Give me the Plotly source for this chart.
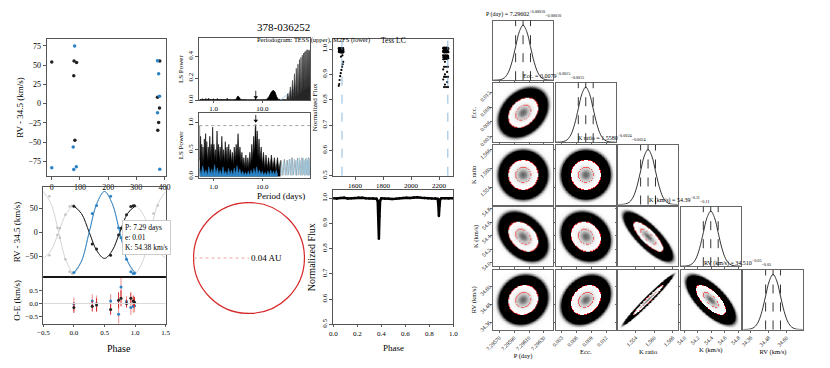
import numpy as np
import plotly.graph_objects as go

# ---------------- data ----------------
# RV vs time (primary = black, secondary = blue), km/s minus 34.5
t_pri = [0, 79, 88, 78, 82, 376, 375, 383, 382, 379]
rv_pri = [54.0, 55.3, 53.6, 36.3, -47.6, -34.6, 8.2, 55.3, -5.6, -24.6]
t_sec = [0, 78, 87, 76, 81, 375, 375, 383, 382, 379]
rv_sec = [-83.4, -85.6, -82.1, -56.2, 74.8, 55.8, -11.7, -85.2, 9.5, 38.9]
obs_phase = [0.00, 0.97, 0.93, 0.86, 0.60, 0.37, 0.77, 0.99, 0.73, 0.30]

# O-E residuals
oe_pri = [-0.15, 0.10, 0.20, 0.00, -0.22, -0.05, 0.20, 0.05, 0.12, -0.10]
oe_pri_err = [0.20, 0.20, 0.22, 0.15, 0.20, 0.25, 0.30, 0.20, 0.30, 0.20]
oe_sec = [-0.02, -0.10, -0.15, 0.08, 0.10, 0.00, 0.62, -0.08, -0.40, 0.10]
oe_sec_err = [0.25, 0.25, 0.28, 0.20, 0.25, 0.30, 0.35, 0.25, 0.35, 0.25]

# orbit model read at phase steps
model_phase = [-0.5, -0.375, -0.25, -0.125, 0.0, 0.125, 0.25, 0.375, 0.5,
               0.625, 0.75, 0.875, 1.0, 1.125, 1.25, 1.375, 1.5]
model_pri = [-54.4, -38.5, 0.0, 38.5, 54.4, 38.5, 0.0, -38.5, -54.4,
             -38.5, 0.0, 38.5, 54.4, 38.5, 0.0, -38.5, -54.4]
model_sec = [84.7, 59.9, 0.0, -59.9, -84.7, -59.9, 0.0, 59.9, 84.7,
             59.9, 0.0, -59.9, -84.7, -59.9, 0.0, 59.9, 84.7]
fit_text = ["P: 7.29 days", "e: 0.01", "K: 54.38 km/s"]
period_orbit = 7.29602
orbit_au = 0.04

# periodogram, TESS (upper)
tess_per = [0.52, 0.58, 0.60, 0.62, 0.68, 0.70, 0.72, 0.78, 0.80, 0.82,
            0.95, 1.00, 1.05, 1.18, 1.20, 1.22, 1.50, 1.85, 1.90, 1.95,
            2.50, 2.90, 3.05, 3.20, 3.40, 3.60, 5.00, 6.80, 7.20, 7.60,
            9.00, 12.0, 13.5, 15.0, 16.5, 18.0, 19.5, 21.0, 25.0, 30.0]
tess_pow = [0.005, 0.004, 0.012, 0.004, 0.005, 0.014, 0.004, 0.005, 0.016, 0.004,
            0.004, 0.010, 0.004, 0.004, 0.014, 0.004, 0.004, 0.004, 0.016, 0.004,
            0.003, 0.006, 0.030, 0.036, 0.020, 0.004, 0.003, 0.003, 0.012, 0.003,
            0.003, 0.004, 0.030, 0.070, 0.090, 0.075, 0.030, 0.006, 0.003, 0.004]
tess_forest_per = [31, 33, 35, 37, 39, 41, 43, 45, 47, 49, 51, 53, 55, 57, 59, 61, 63,
                   65, 67, 69, 71, 73, 75, 77, 79, 81, 83, 85, 87, 89, 91, 93, 94]
tess_forest_pow = [0.0, 0.06, 0.0, 0.12, 0.01, 0.18, 0.02, 0.24, 0.03, 0.29, 0.04,
                   0.33, 0.05, 0.37, 0.06, 0.39, 0.07, 0.41, 0.08, 0.43, 0.09, 0.44,
                   0.10, 0.45, 0.10, 0.46, 0.11, 0.46, 0.12, 0.45, 0.12, 0.46, 0.30]
tess_win_per = [23, 94]
tess_win_pow = [0.0, 0.21]

# periodogram, M2FS (lower)
m2_per = [0.52, 0.53, 0.545, 0.56, 0.575, 0.59, 0.61, 0.63, 0.65, 0.67,
          0.69, 0.71, 0.73, 0.75, 0.78, 0.81, 0.84, 0.87, 0.90, 0.93,
          0.96, 0.99, 1.02, 1.06, 1.10, 1.14, 1.18, 1.22, 1.27, 1.32,
          1.37, 1.42, 1.48, 1.54, 1.60, 1.67, 1.74, 1.81, 1.89, 1.97,
          2.05, 2.14, 2.23, 2.33, 2.43, 2.54, 2.65, 2.77, 2.90, 3.03,
          3.17, 3.32, 3.47, 3.63, 3.80, 3.98, 4.17, 4.37, 4.58, 4.80,
          5.03, 5.27, 5.52, 5.78, 6.05, 6.33, 6.62, 6.92, 7.10, 7.29,
          7.50, 7.80, 8.10, 8.50, 8.90, 9.40, 9.90, 10.5, 11.1, 11.8,
          12.5, 13.3, 14.2, 15.2, 16.3, 17.5, 18.8, 20.2, 21.7, 23.3]
m2_pow = [0.95, 0.30, 0.75, 0.20, 0.60, 0.25, 0.55, 0.20, 0.70, 0.30,
          0.80, 0.35, 0.65, 0.25, 0.55, 0.30, 0.75, 0.35, 0.60, 0.30,
          0.92, 0.40, 0.60, 0.30, 0.50, 0.25, 0.85, 0.35, 0.60, 0.30,
          0.55, 0.25, 0.75, 0.30, 0.50, 0.25, 0.65, 0.30, 0.55, 0.25,
          0.60, 0.30, 0.50, 0.25, 0.45, 0.20, 0.55, 0.30, 0.60, 0.35,
          0.80, 0.35, 0.55, 0.25, 0.45, 0.20, 0.35, 0.15, 0.40, 0.15,
          0.35, 0.15, 0.45, 0.20, 0.60, 0.30, 0.75, 0.40, 0.90, 0.97,
          0.50, 0.85, 0.35, 0.70, 0.30, 0.55, 0.20, 0.45, 0.15, 0.40,
          0.15, 0.35, 0.15, 0.40, 0.15, 0.35, 0.10, 0.35, 0.10, 0.30]
m2_blue_per = [0.52, 0.56, 0.6, 0.65, 0.7, 0.75, 0.8, 0.86, 0.92, 0.98,
               1.05, 1.12, 1.2, 1.28, 1.37, 1.46, 1.56, 1.67, 1.78, 1.9,
               2.03, 2.17, 2.32, 2.48, 2.65, 2.83, 3.02, 3.23, 3.45, 3.68,
               3.93, 4.2, 4.49, 4.8, 5.13, 5.48, 5.85, 6.25, 6.68, 7.13,
               7.62, 8.14, 8.7, 9.3, 9.93, 10.6, 11.3, 12.1, 12.9, 13.8,
               14.7, 15.7, 16.8, 17.9, 19.1, 20.4]
m2_blue_pow = [0.15, 0.03, 0.20, 0.05, 0.12, 0.02, 0.18, 0.04, 0.14, 0.03,
               0.22, 0.05, 0.16, 0.03, 0.12, 0.02, 0.18, 0.04, 0.10, 0.02,
               0.15, 0.03, 0.12, 0.02, 0.16, 0.04, 0.20, 0.05, 0.14, 0.03,
               0.10, 0.02, 0.08, 0.02, 0.10, 0.02, 0.12, 0.03, 0.15, 0.04,
               0.18, 0.05, 0.12, 0.03, 0.10, 0.02, 0.08, 0.02, 0.10, 0.02,
               0.12, 0.03, 0.10, 0.02, 0.12, 0.03]
m2_gray_per = [20, 22, 24, 26, 28, 30, 32, 34, 36, 38, 40, 43, 46, 49, 52, 55, 58,
               61, 64, 67, 70, 73, 76, 79, 82, 85, 88, 91, 94]
m2_gray_pow = [0.30, 0.02, 0.30, 0.02, 0.32, 0.02, 0.30, 0.03, 0.32, 0.02, 0.35,
               0.03, 0.30, 0.02, 0.34, 0.03, 0.30, 0.02, 0.35, 0.03, 0.30, 0.02,
               0.33, 0.03, 0.30, 0.02, 0.35, 0.03, 0.32]
m2_lblue_per = [21, 23, 25, 27, 29, 31, 33, 35, 37, 39, 41.5, 44.5, 47.5, 50.5,
                53.5, 56.5, 59.5, 62.5, 65.5, 68.5, 71.5, 74.5, 77.5, 80.5, 83.5,
                86.5, 89.5, 92.5]
m2_lblue_pow = [0.02, 0.25, 0.02, 0.28, 0.03, 0.30, 0.02, 0.32, 0.03, 0.30, 0.02,
                0.33, 0.03, 0.30, 0.02, 0.35, 0.03, 0.30, 0.02, 0.34, 0.03, 0.30,
                0.02, 0.35, 0.03, 0.32, 0.02, 0.30]
fap_level = 0.95

# TESS light curve
lc1_t = [1483, 1485, 1487, 1489, 1491, 1493, 1495, 1497, 1499, 1501, 1503, 1505,
         1507, 1509, 1511, 1513, 1515, 1517,
         1484, 1486, 1488, 1490, 1492, 1494, 1496, 1498, 1500, 1502, 1504, 1506,
         1508, 1510, 1512, 1514, 1516, 1518,
         1484, 1487, 1490, 1494, 1498, 1503, 1508, 1512, 1516, 1500, 1510]
lc1_f = [1.003, 0.998, 1.004, 0.999, 1.002, 0.997, 1.003, 1.000, 0.998, 1.004, 0.999, 1.002,
         0.997, 1.003, 1.000, 0.998, 1.004, 0.999,
         0.990, 0.993, 0.988, 0.992, 0.989, 0.994, 0.990, 0.987, 0.993, 0.989, 0.991, 0.986,
         0.992, 0.988, 0.990, 0.993, 0.987, 0.991,
         0.855, 0.862, 0.878, 0.893, 0.905, 0.918, 0.930, 0.940, 0.950, 0.970, 0.975]
lc2_band_t = [2229, 2231, 2233, 2235, 2237, 2239, 2241, 2243, 2245, 2247,
              2249, 2251, 2253, 2255, 2257, 2259, 2261, 2263, 2265, 2267]
lc2_band_f1 = [1.004, 1.001, 1.005, 1.002, 1.006, 1.000, 1.004, 1.002, 1.005, 1.001,
               1.004, 1.002, 1.006, 1.001, 1.004, 1.000, 1.005, 1.002, 1.004, 1.001]
lc2_band_f2 = [0.992, 0.988, 0.993, 0.989, 0.991, 0.987, 0.992, 0.990, 0.988, 0.993,
               0.989, 0.991, 0.987, 0.992, 0.990, 0.988, 0.993, 0.989, 0.991, 0.988]
lc2_band_f3 = [0.975, 0.968, 0.972, 0.960, 0.974, 0.966, 0.971, 0.962, 0.975, 0.967,
               0.973, 0.961, 0.974, 0.968, 0.970, 0.963, 0.975, 0.966, 0.972, 0.964]
lc2_dip_t = [2230, 2230, 2230, 2236, 2236, 2236, 2236, 2242, 2242, 2242, 2250,
             2250, 2250, 2250, 2258, 2258, 2258, 2264, 2264, 2264, 2264]
lc2_dip_f = [0.96, 0.92, 0.88, 0.97, 0.93, 0.89, 0.85, 0.95, 0.90, 0.86, 0.97,
             0.93, 0.89, 0.85, 0.96, 0.91, 0.87, 0.97, 0.93, 0.89, 0.85]
tess_marks = [1507, 2263]

# phase-folded light curve
lc_phase = [0.0, 0.03, 0.06, 0.09, 0.12, 0.15, 0.18, 0.21, 0.24, 0.27, 0.30, 0.33,
            0.36, 0.37, 0.375, 0.38, 0.385, 0.39, 0.40, 0.43, 0.46, 0.49, 0.52, 0.55,
            0.58, 0.61, 0.64, 0.67, 0.70, 0.73, 0.76, 0.79, 0.82, 0.85, 0.87, 0.875,
            0.88, 0.885, 0.89, 0.90, 0.93, 0.96, 1.0]
lc_flux = [1.000, 0.999, 1.001, 1.002, 0.999, 1.000, 1.001, 1.003, 1.002, 1.000, 0.999, 1.000,
           0.998, 0.990, 0.930, 0.840, 0.930, 0.990, 1.000, 0.998, 0.999, 0.997, 0.998, 1.000,
           1.001, 1.002, 1.001, 1.003, 1.004, 1.002, 1.001, 1.000, 0.999, 1.000, 0.998, 0.975,
           0.930, 0.970, 0.995, 1.000, 1.000, 0.999, 1.000]

# corner plot: posterior summaries
par_names = ["P (day)", "Ecc.", "K ratio", "K (km/s)", "RV (km/s)"]
par_med = [7.29602, 0.0079, 1.5580, 54.39, 34.510]
par_sig = [0.00010, 0.0015, 0.0024, 0.11, 0.05]
par_med_txt = ["7.29602", "0.0079", "1.5580", "54.39", "34.510"]
par_err_txt = ["0.00010", "0.0015", "0.0024", "0.11", "0.05"]
par_corr = [[1.00, 0.30, 0.00, -0.35, 0.10],
            [0.30, 1.00, 0.00, -0.15, 0.25],
            [0.00, 0.00, 1.00, -0.80, 0.98],
            [-0.35, -0.15, -0.80, 1.00, -0.70],
            [0.10, 0.25, 0.98, -0.70, 1.00]]
par_ticks = [[7.2957, 7.2959, 7.2961, 7.2963],
             [0.003, 0.006, 0.009, 0.012],
             [1.554, 1.560, 1.566],
             [54.0, 54.2, 54.4, 54.6, 54.8],
             [34.36, 34.48, 34.60]]
par_tick_txt = [["7.29570", "7.29590", "7.29610", "7.29630"],
                ["0.003", "0.006", "0.009", "0.012"],
                ["1.554", "1.560", "1.566"],
                ["54.0", "54.2", "54.4", "54.6", "54.8"],
                ["34.36", "34.48", "34.60"]]
# marginal histogram profile, read in units of sigma
hist_off = [-4.5, -4.0, -3.5, -3.0, -2.5, -2.0, -1.5, -1.0, -0.5, 0.0,
            0.5, 1.0, 1.5, 2.0, 2.5, 3.0, 3.5, 4.0, 4.5]
hist_h = [0.0, 0.0003, 0.002, 0.011, 0.044, 0.135, 0.325, 0.607, 0.882, 1.0,
          0.882, 0.607, 0.325, 0.135, 0.044, 0.011, 0.002, 0.0003, 0.0]

# ---------------- figure ----------------
W, H = 830, 368
SERIF = "Liberation Serif, Times New Roman, DejaVu Serif, serif"
BLUE = "#2b83c6"
fig = go.Figure()
_n = [0]


def axes(box, xopt=None, yopt=None, line="#555"):
    _n[0] += 1
    k = _n[0]
    s = "" if k == 1 else str(k)
    x0, y0, x1, y1 = box
    base = dict(showline=True, mirror=True, linecolor=line, linewidth=1, automargin=False,
                ticks="outside", ticklen=3, tickcolor=line, showgrid=False,
                zeroline=False, tickfont=dict(family=SERIF, size=8, color="black"))
    xa = {**base, "domain": [x0 / W, x1 / W], "anchor": "y" + s, **(xopt or {})}
    ya = {**base, "domain": [1 - y1 / H, 1 - y0 / H], "anchor": "x" + s, **(yopt or {})}
    fig.update_layout({"xaxis" + s: xa, "yaxis" + s: ya})
    return "x" + s, "y" + s


def ttl(text, size=9, standoff=3):
    return dict(text=text, font=dict(family=SERIF, size=size, color="black"), standoff=standoff)


def note(x, y, text, size=8, **kw):
    fig.add_annotation(x=x / W, y=1 - y / H, xref="paper", yref="paper", text=text,
                       showarrow=False, font=dict(family=SERIF, size=size, color="black"), **kw)


def arrow_down(xr, yr, x, y_tip, y_tail):
    # small down-pointing arrow drawn as a line plus a triangle head
    fig.add_trace(go.Scatter(x=[x, x], y=[y_tail, y_tip], mode="lines", xaxis=xr, yaxis=yr,
                             line=dict(color="black", width=0.8)))
    fig.add_trace(go.Scatter(x=[x], y=[y_tip], mode="markers", xaxis=xr, yaxis=yr,
                             marker=dict(symbol="triangle-down", size=4, color="black")))


tick7 = dict(family=SERIF, size=7, color="black")

# --- RV vs time
xa, ya = axes((46.7, 39, 165.7, 176),
              dict(range=[-18, 404], tickvals=[0, 100, 200, 300, 400]),
              dict(range=[-94, 84], tickvals=[-75, -50, -25, 0, 25, 50, 75],
                   ticktext=["−75", "−50", "−25", "0", "25", "50", "75"],
                   title=ttl("RV - 34.5 (km/s)")))
fig.add_trace(go.Scatter(x=t_pri, y=rv_pri, mode="markers", xaxis=xa, yaxis=ya,
                         marker=dict(color="#222", size=3.5)))
fig.add_trace(go.Scatter(x=t_sec, y=rv_sec, mode="markers", xaxis=xa, yaxis=ya,
                         marker=dict(color=BLUE, size=3.5)))

# --- phased RV
xb, yb = axes((43.3, 187, 165.7, 277),
              dict(range=[-0.5, 1.5], showticklabels=False, ticks=""),
              dict(range=[-93, 94], tickvals=[-50, 0, 50], ticktext=["−50", "0", "50"],
                   title=ttl("RV - 34.5 (km/s)")))
for mod in (model_pri, model_sec):
    fig.add_trace(go.Scatter(x=model_phase, y=mod, mode="lines", xaxis=xb, yaxis=yb,
                             line=dict(color="#d4d4d4", width=1, shape="spline")))
inner = [k for k, p in enumerate(model_phase) if 0 <= p <= 1]
for mod, col in ((model_pri, "#222"), (model_sec, BLUE)):
    fig.add_trace(go.Scatter(x=[model_phase[k] for k in inner], y=[mod[k] for k in inner],
                             mode="lines", xaxis=xb, yaxis=yb,
                             line=dict(color=col, width=1, shape="spline")))
for shift in (-1, 1):
    ph = [p + shift for p in obs_phase]
    fig.add_trace(go.Scatter(x=ph + ph, y=rv_pri + rv_sec, mode="markers", xaxis=xb, yaxis=yb,
                             marker=dict(color="#c0c0c0", size=2.5)))
fig.add_trace(go.Scatter(x=obs_phase, y=rv_pri, mode="markers", xaxis=xb, yaxis=yb,
                         marker=dict(color="#222", size=3)))
fig.add_trace(go.Scatter(x=obs_phase, y=rv_sec, mode="markers", xaxis=xb, yaxis=yb,
                         marker=dict(color=BLUE, size=3)))
fig.add_annotation(x=121.7 / W, y=1 - 220 / H, xref="paper", yref="paper",
                   xanchor="left", yanchor="top", align="left", showarrow=False,
                   text="<br>".join(fit_text), bgcolor="white", bordercolor="#cccccc",
                   borderwidth=1, borderpad=2, font=dict(family=SERIF, size=7.5, color="black"))

# --- O-E
xc, yc = axes((43.3, 277, 165.7, 324),
              dict(range=[-0.5, 1.5], tickvals=[-0.5, 0, 0.5, 1, 1.5], ticklen=2, tickfont=tick7,
                   ticktext=["−0.5", "0.0", "0.5", "1.0", "1.5"]),
              dict(range=[-0.77, 1.0], tickvals=[-0.5, 0, 0.5], ticktext=["−0.5", "0.0", "0.5"],
                   tickfont=tick7, title=ttl("O-E (km/s)")))
note(104.5, 341, "Phase", 10, yanchor="top")
fig.add_shape(type="line", xref=xc, yref=yc, x0=-0.5, x1=1.5, y0=0, y1=0,
              line=dict(color="#d8d8d8", width=1))
fig.add_shape(type="line", xref="paper", yref="paper", x0=43.3 / W, x1=165.7 / W,
              y0=1 - 277 / H, y1=1 - 277 / H, line=dict(color="black", width=1.3))
fig.add_trace(go.Scatter(x=obs_phase, y=oe_sec, mode="markers", xaxis=xc, yaxis=yc,
                         marker=dict(color=BLUE, size=3),
                         error_y=dict(type="data", array=oe_sec_err, color="#f2a0a0",
                                      thickness=1.2, width=0)))
fig.add_trace(go.Scatter(x=obs_phase, y=oe_pri, mode="markers", xaxis=xc, yaxis=yc,
                         marker=dict(color="#222", size=3),
                         error_y=dict(type="data", array=oe_pri_err, color="#d62728",
                                      thickness=1, width=0)))

# --- periodograms
note(255, 19, "378-036252", 11)
note(255, 34, "Periodogram: TESS (upper), M2FS (lower)", 6.5)
logx = dict(type="log", range=[-0.29, 1.97], tickvals=[1, 10], ticktext=["1.0", "10.0"],
            tickfont=tick7, ticklen=2)
xd, yd = axes((199.3, 38.3, 310, 100), logx,
              dict(range=[0, 0.565], tickvals=[0, 0.2, 0.4], ticktext=["0.0", "0.2", "0.4"],
                   tickangle=-90, tickfont=tick7, title=ttl("LS Power", 7, 2)))
fig.add_trace(go.Scatter(x=tess_per, y=tess_pow, mode="lines", xaxis=xd, yaxis=yd, fill="tozeroy",
                         fillcolor="black", line=dict(color="black", width=0.7)))
fig.add_trace(go.Scatter(x=tess_win_per, y=tess_win_pow, mode="lines", xaxis=xd, yaxis=yd,
                         line=dict(color="#a8d0ec", width=1)))
fig.add_trace(go.Scatter(x=tess_forest_per, y=tess_forest_pow, mode="lines", xaxis=xd, yaxis=yd,
                         fill="tozeroy", fillcolor="rgba(0,0,0,0.85)",
                         line=dict(color="#333", width=0.6)))
arrow_down(xd, yd, period_orbit, 0.025, 0.085)

xe, ye = axes((199.3, 113.3, 310, 177.5), logx,
              dict(range=[-0.02, 1.18], tickvals=[0, 0.5, 1.0], ticktext=["0.0", "0.5", "1.0"],
                   tickangle=-90, tickfont=tick7, title=ttl("LS Power", 7, 2)))
note(255, 196, "Period (days)", 9)
fig.add_trace(go.Scatter(x=m2_gray_per, y=m2_gray_pow, mode="lines", xaxis=xe, yaxis=ye,
                         line=dict(color="#8a8a8a", width=0.8)))
fig.add_trace(go.Scatter(x=m2_lblue_per, y=m2_lblue_pow, mode="lines", xaxis=xe, yaxis=ye,
                         line=dict(color="#9ecae1", width=0.8)))
fig.add_trace(go.Scatter(x=m2_per, y=m2_pow, mode="lines", xaxis=xe, yaxis=ye, fill="tozeroy",
                         fillcolor="black", line=dict(color="black", width=0.6)))
fig.add_trace(go.Scatter(x=m2_blue_per, y=m2_blue_pow, mode="lines", xaxis=xe, yaxis=ye,
                         fill="tozeroy", fillcolor=BLUE, line=dict(color=BLUE, width=0.5)))
fig.add_shape(type="line", xref=xe + " domain", yref=ye, x0=0, x1=1, y0=fap_level, y1=fap_level,
              line=dict(color="#888", width=0.8, dash="dot"))
arrow_down(xe, ye, period_orbit, 1.04, 1.15)

# --- orbit sketch
lim = orbit_au * 1.01
xf, yf = axes((193, 202, 305, 314), dict(range=[-lim, lim], visible=False),
              dict(range=[-lim, lim], visible=False))
fig.add_shape(type="circle", xref=xf, yref=yf, x0=-orbit_au, y0=-orbit_au, x1=orbit_au, y1=orbit_au,
              line=dict(color="#d62728", width=1.2))
fig.add_shape(type="line", xref=xf, yref=yf, x0=-orbit_au, y0=0, x1=0, y1=0,
              line=dict(color="#f4a0a0", width=1, dash="dot"))
fig.add_annotation(x=0, y=0, xref=xf, yref=yf, text=f"{orbit_au:.2f} AU", showarrow=False,
                   xanchor="left", font=dict(family=SERIF, size=9, color="black"))

# --- TESS light curve
note(393, 34, "Tess LC", 7.5)
xg, yg = axes((333.3, 39, 453.3, 175.7),
              dict(range=[1445, 2302], tickvals=[1600, 1800, 2000, 2200], tickfont=tick7),
              dict(range=[0.5, 1.04], tickvals=[0.5, 0.6, 0.7, 0.8, 0.9, 1.0], tickangle=-90,
                   ticktext=["0.5", "0.6", "0.7", "0.8", "0.9", "1.0"], tickfont=tick7,
                   title=ttl("Normalized Flux", 7, 2)))
for tm in tess_marks:
    fig.add_shape(type="line", xref=xg, yref=yg + " domain", x0=tm, x1=tm, y0=0, y1=1,
                  line=dict(color="#6fa8d6", width=0.8, dash="dash"))
lc2_t = lc2_band_t * 3 + lc2_dip_t
lc2_f = lc2_band_f1 + lc2_band_f2 + lc2_band_f3 + lc2_dip_f
fig.add_trace(go.Scatter(x=lc1_t + lc2_t, y=lc1_f + lc2_f, mode="markers", xaxis=xg, yaxis=yg,
                         marker=dict(color="black", size=2.2)))

# --- phased light curve
xh, yh = axes((333.3, 190, 453.3, 324.3),
              dict(range=[0, 1], tickvals=[0, 0.2, 0.4, 0.6, 0.8, 1.0], tickfont=tick7, ticklen=2,
                   ticktext=["0.0", "0.2", "0.4", "0.6", "0.8", "1.0"]),
              dict(range=[0.5, 1.033], tickvals=[0.5, 0.6, 0.7, 0.8, 0.9, 1.0], tickangle=-90,
                   ticktext=["0.5", "0.6", "0.7", "0.8", "0.9", "1.0"], tickfont=tick7,
                   title=ttl("Normalized Flux", 10, 2)))
note(393.3, 341, "Phase", 9, yanchor="top")
fig.add_trace(go.Scatter(x=lc_phase, y=lc_flux, mode="lines+markers", xaxis=xh, yaxis=yh,
                         line=dict(color="black", width=2.5), marker=dict(color="black", size=2.5)))

# --- corner plot
col_left = [493.3, 556.0, 618.3, 681.0, 743.3]
row_top = [20.7, 82.7, 145.0, 206.7, 270.0]
PW = 59.5
# density shading: grey speckle, black ring, red 2-sigma edge, white core, red 1-sigma ring, grey peak
cscale = [[0, "#ffffff"], [0.0008, "#f6f6f6"], [0.0025, "#8c8c8c"], [0.005, "#000000"],
          [0.124, "#000000"], [0.126, "#e02020"], [0.146, "#e02020"], [0.148, "#ffffff"],
          [0.45, "#f3f3f3"], [0.575, "#dcdcdc"], [0.577, "#f06060"], [0.625, "#f06060"],
          [0.627, "#d6d6d6"], [0.8, "#bcbcbc"], [1.0, "#666666"]]
small = dict(family=SERIF, size=5.5, color="black")
for i in range(5):
    for j in range(i + 1):
        rng_j = [par_med[j] - 4 * par_sig[j], par_med[j] + 4 * par_sig[j]]
        xo = dict(range=rng_j, tickvals=par_ticks[j], ticktext=par_tick_txt[j], tickangle=-45,
                  tickfont=small, ticklen=2, showticklabels=(i == 4))
        if i == 4:
            xo["title"] = ttl(par_names[j], 6.5, 1)
        if i == j:
            yo = dict(range=[0, 1.08], showticklabels=False, ticks="")
        else:
            rng_i = [par_med[i] - 4 * par_sig[i], par_med[i] + 4 * par_sig[i]]
            yo = dict(range=rng_i, tickvals=par_ticks[i], ticktext=par_tick_txt[i], tickangle=-45,
                      tickfont=small, ticklen=2, showticklabels=(j == 0))
            if j == 0:
                yo["title"] = ttl(par_names[i], 6.5, 1)
        box = (col_left[j], row_top[i], col_left[j] + PW, row_top[i] + PW)
        xk, yk = axes(box, xo, yo, line="#666")
        if i == j:
            hx = [par_med[j] + o * par_sig[j] for o in hist_off]
            fig.add_trace(go.Scatter(x=hx, y=hist_h, mode="lines", xaxis=xk, yaxis=yk,
                                     line=dict(color="black", width=0.8, shape="spline")))
            for q in (-1, 0, 1):
                xq = par_med[j] + q * par_sig[j]
                fig.add_shape(type="line", xref=xk, yref=yk + " domain", x0=xq, x1=xq, y0=0, y1=1,
                              line=dict(color="black", width=0.8, dash="dash"))
            note(col_left[j] + PW / 2, row_top[i] - 1,
                 f"{par_names[j]} = {par_med_txt[j]}<sup>+{par_err_txt[j]}</sup><sub>−{par_err_txt[j]}</sub>",
                 6, yanchor="bottom")
        else:
            gx = np.linspace(rng_j[0], rng_j[1], 160)
            gy = np.linspace(rng_i[0], rng_i[1], 160)
            u = (gx[None, :] - par_med[j]) / par_sig[j]
            v = (gy[:, None] - par_med[i]) / par_sig[i]
            r = par_corr[i][j]
            dens = np.exp(-0.5 * (u ** 2 - 2 * r * u * v + v ** 2) / (1 - r ** 2))
            fig.add_trace(go.Heatmap(x=gx, y=gy, z=dens, xaxis=xk, yaxis=yk, zmin=0, zmax=1,
                                     colorscale=cscale, showscale=False, zsmooth="best",
                                     hoverinfo="skip"))

fig.update_layout(width=W, height=H, margin=dict(l=0, r=0, t=0, b=0),
                  paper_bgcolor="white", plot_bgcolor="white", showlegend=False,
                  font=dict(family=SERIF, color="black"))
fig.write_html("out.html", config={"displayModeBar": False},
               post_script="document.body.style.margin='0';")
